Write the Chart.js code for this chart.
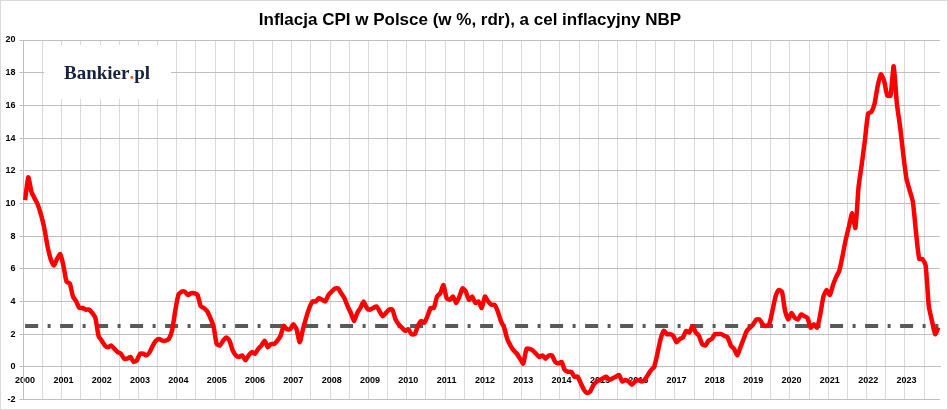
<!DOCTYPE html>
<html lang="pl">
<head>
  <meta charset="UTF-8">
  <title>Inflacja CPI w Polsce</title>
  <script src="https://cdn.jsdelivr.net/npm/chart.js@4.4.1/dist/chart.umd.min.js"></script>
  <style>
    * {
      margin: 0;
      padding: 0;
    }
    body {
      background: #fff;
    }
    .chart {
      width: 948px;
      height: 410px;
    }
  </style>
</head>
<body>
  <div class="chart">
    <canvas id="cpi" width="948" height="410"></canvas>
  </div>

  <script>
    // CPI r/r w %, miesięcznie od czerwca 2000 do kwietnia 2024
    const firstYear = 2000;
    const firstMonth = 6;
    const cpiValues = [
      10.2, 11.6, 10.7, 10.3, 9.9, 9.3, 8.5,                     // 2000 (VI-XII)
      7.4, 6.6, 6.2, 6.6, 6.9, 6.2, 5.2, 5.1, 4.3, 4.0, 3.6, 3.6, // 2001
      3.5, 3.5, 3.3, 3.0, 1.9, 1.6, 1.3, 1.2, 1.3, 1.1, 0.9, 0.8, // 2002
      0.5, 0.5, 0.6, 0.3, 0.4, 0.8, 0.8, 0.7, 0.9, 1.3, 1.6, 1.7, // 2003
      1.6, 1.6, 1.7, 2.2, 3.4, 4.4, 4.6, 4.6, 4.4, 4.5, 4.5, 4.4, // 2004
      3.7, 3.6, 3.4, 3.0, 2.5, 1.4, 1.3, 1.6, 1.8, 1.6, 1.0, 0.7, // 2005
      0.6, 0.7, 0.4, 0.7, 0.9, 0.8, 1.1, 1.3, 1.6, 1.2, 1.4, 1.4, // 2006
      1.6, 1.9, 2.5, 2.3, 2.3, 2.6, 2.3, 1.5, 2.3, 3.0, 3.6, 4.0, // 2007
      4.0, 4.2, 4.1, 4.0, 4.4, 4.6, 4.8, 4.8, 4.5, 4.2, 3.7, 3.3, // 2008
      2.8, 3.3, 3.6, 4.0, 3.6, 3.5, 3.6, 3.7, 3.4, 3.1, 3.3, 3.5, // 2009
      3.5, 2.9, 2.6, 2.4, 2.2, 2.3, 2.0, 2.0, 2.5, 2.8, 2.7, 3.1, // 2010
      3.6, 3.6, 4.3, 4.5, 5.0, 4.2, 4.1, 4.3, 3.9, 4.3, 4.8, 4.6, // 2011
      4.1, 4.3, 3.9, 4.0, 3.6, 4.3, 4.0, 3.8, 3.8, 3.4, 2.8, 2.4, // 2012
      1.7, 1.3, 1.0, 0.8, 0.5, 0.2, 1.1, 1.1, 1.0, 0.8, 0.6, 0.7, // 2013
      0.5, 0.7, 0.7, 0.3, 0.2, 0.3, -0.2, -0.3, -0.3, -0.6, -0.6, -1.0, // 2014
      -1.4, -1.6, -1.5, -1.1, -0.9, -0.8, -0.7, -0.6, -0.8, -0.7, -0.6, -0.5, // 2015
      -0.9, -0.8, -0.9, -1.1, -0.9, -0.8, -0.9, -0.8, -0.5, -0.2, 0.0, 0.8, // 2016
      1.7, 2.2, 2.0, 2.0, 1.9, 1.5, 1.7, 1.8, 2.2, 2.1, 2.5, 2.1, // 2017
      1.9, 1.4, 1.3, 1.6, 1.7, 2.0, 2.0, 2.0, 1.9, 1.8, 1.3, 1.1, // 2018
      0.7, 1.2, 1.7, 2.2, 2.4, 2.6, 2.9, 2.9, 2.6, 2.5, 2.6, 3.4, // 2019
      4.3, 4.7, 4.6, 3.4, 2.9, 3.3, 3.0, 2.9, 3.2, 3.1, 3.0, 2.4, // 2020
      2.6, 2.4, 3.2, 4.3, 4.7, 4.4, 5.0, 5.5, 5.9, 6.8, 7.8, 8.6, // 2021
      9.4, 8.5, 11.0, 12.4, 13.9, 15.5, 15.6, 16.1, 17.2, 17.9, 17.5, 16.6, // 2022
      16.6, 18.4, 16.1, 14.7, 13.0, 11.5, 10.8, 10.1, 8.2, 6.6, 6.6, 6.2, // 2023
      3.7, 2.8, 2.0, 2.4                                          // 2024 (I-IV)
    ];
    const nbpTarget = 2.5;
    const yearTicks = ['2000', '2001', '2002', '2003', '2004', '2005', '2006', '2007',
      '2008', '2009', '2010', '2011', '2012', '2013', '2014', '2015',
      '2016', '2017', '2018', '2019', '2020', '2021', '2022', '2023'];
    const yTicks = [-2, 0, 2, 4, 6, 8, 10, 12, 14, 16, 18, 20];

    // etykiety miesięcy (kategorie osi X)
    const months = [];
    for (let i = 0; i < cpiValues.length; i++) {
      const m = firstMonth - 1 + i;
      const year = firstYear + Math.floor(m / 12);
      months.push(year + '-' + String(m % 12 + 1).padStart(2, '0'));
    }

    // logo i ramka wykresu
    const decorPlugin = {
      id: 'decor',
      beforeDatasetsDraw(chart) {
        const ctx = chart.ctx;
        ctx.save();
        ctx.fillStyle = '#fff';
        ctx.fillRect(44, 45, 127, 54);
        ctx.font = 'bold 19px "Liberation Serif"';
        ctx.textBaseline = 'alphabetic';
        let x = 64;
        const y = 78.5;
        ctx.fillStyle = '#16223f';
        ctx.fillText('Bankier', x, y);
        x += ctx.measureText('Bankier').width;
        ctx.fillStyle = '#ef5a24';
        ctx.fillText('.', x, y);
        x += ctx.measureText('.').width;
        ctx.fillStyle = '#16223f';
        ctx.fillText('pl', x, y);
        ctx.restore();
      },
      afterDraw(chart) {
        const ctx = chart.ctx;
        ctx.save();
        ctx.strokeStyle = '#d9d9d9';
        ctx.lineWidth = 1;
        ctx.strokeRect(0.5, 0.5, chart.width - 1, chart.height - 1);
        ctx.restore();
      }
    };

    const config = {
      type: 'line',
      data: {
        labels: months,
        datasets: [{
          label: 'Inflacja CPI',
          data: cpiValues,
          borderColor: '#ff0000',
          borderWidth: 4.5,
          pointRadius: 0,
          tension: 0.2,
          fill: false,
          order: 1
        }, {
          label: 'Cel inflacyjny NBP',
          data: months.map(() => nbpTarget),
          borderColor: '#595959',
          borderWidth: 4,
          borderDash: [13, 9.5, 3, 9.5],
          borderCapStyle: 'butt',
          pointRadius: 0,
          fill: false,
          order: 2
        }]
      },
      options: {
        responsive: false,
        animation: false,
        layout: {
          padding: { left: 0, right: 8, top: 0, bottom: 10.5 }
        },
        plugins: {
          legend: { display: false },
          tooltip: { enabled: false },
          title: {
            display: true,
            text: 'Inflacja CPI w Polsce (w %, rdr), a cel inflacyjny NBP',
            color: '#000',
            font: { family: '"Liberation Sans", Arial, sans-serif', size: 17, weight: 'bold' },
            padding: { top: 10, bottom: 9.6 }
          }
        },
        scales: {
          x: {
            type: 'category',
            position: { y: 0 },
            offset: true,
            grid: {
              offset: true,
              drawTicks: false,
              color: (c) => (c.index % 6 === 0 || c.index === cpiValues.length) ? '#d9d9d9' : 'transparent'
            },
            border: { color: '#bfbfbf', width: 1 },
            ticks: {
              autoSkip: false,
              maxRotation: 0,
              padding: 8,
              color: '#000',
              font: { family: '"Liberation Sans", Arial, sans-serif', size: 9, weight: 'bold' },
              callback: (value, index) => index % 12 === 0 ? yearTicks[index / 12] : ''
            }
          },
          y: {
            min: yTicks[0],
            max: yTicks[yTicks.length - 1],
            afterBuildTicks: (scale) => {
              scale.ticks = yTicks.map(v => ({ value: v }));
            },
            afterFit: (scale) => {
              scale.width = 23.5;
            },
            grid: {
              color: '#bfbfbf',
              tickLength: 4,
              tickColor: '#bfbfbf'
            },
            border: { color: '#bfbfbf' },
            ticks: {
              padding: 4,
              color: '#000',
              font: { family: '"Liberation Sans", Arial, sans-serif', size: 9, weight: 'bold' }
            }
          }
        }
      },
      plugins: [decorPlugin]
    };

    const chartCpi = new Chart(document.getElementById('cpi').getContext('2d'), config);
  </script>
</body>
</html>
